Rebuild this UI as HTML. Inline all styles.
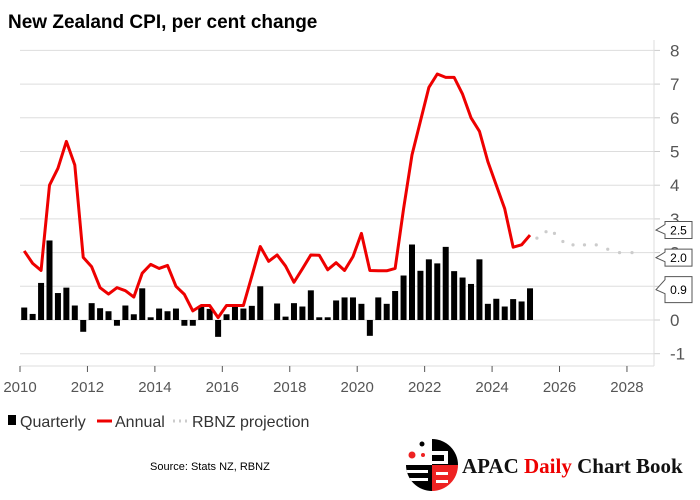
<!DOCTYPE html>
<html><head><meta charset="utf-8"><style>
body{margin:0;background:#fff;}
svg{display:block;font-family:"Liberation Sans",sans-serif;}
</style></head><body>
<svg id="chart" width="700" height="500">
<text x="8" y="28" font-size="19" font-weight="bold" fill="#000">New Zealand CPI, per cent change</text>
<g id="grid"></g><g id="bars"></g><g id="lines"></g><g id="axes"></g><g id="callouts"></g>
<g>
<rect x="8" y="415" width="8" height="10" fill="#000"/>
<text x="20" y="427" font-size="16" fill="#333">Quarterly</text>
<line x1="97" y1="421" x2="112" y2="421" stroke="#e00" stroke-width="3"/>
<text x="115" y="427" font-size="16" fill="#333">Annual</text>
<line x1="173" y1="421" x2="188" y2="421" stroke="#ccc" stroke-width="3" stroke-dasharray="2,4"/>
<text x="192" y="427" font-size="16" fill="#333">RBNZ projection</text>
</g>
<text x="150" y="470" font-size="11" fill="#000">Source: Stats NZ, RBNZ</text>
<g>
<clipPath id="lc"><circle cx="432" cy="465" r="26"/></clipPath>
<g clip-path="url(#lc)">
<rect x="432" y="439" width="26" height="26" fill="#000"/>
<rect x="432" y="465" width="26" height="26" fill="#e22"/>
<rect x="406" y="465" width="26" height="26" fill="#000"/>
<rect x="432" y="451" width="16" height="4" fill="#fff"/><rect x="444" y="455" width="4" height="6" fill="#fff"/><rect x="432" y="461" width="16" height="3" fill="#fff"/>
<rect x="406" y="470" width="22" height="3" fill="#fff"/><rect x="406" y="478" width="22" height="3" fill="#fff"/>
<rect x="436" y="472" width="12" height="3" fill="#fff"/><rect x="436" y="480" width="12" height="3" fill="#fff"/>
</g>
<circle cx="422" cy="444" r="2.5" fill="#000"/><circle cx="412" cy="455" r="3.5" fill="#e22"/><circle cx="423" cy="455" r="2" fill="#e22"/>
<text x="462" y="473" font-family="Liberation Serif,serif" font-size="21" font-weight="bold" fill="#111">APAC <tspan fill="#e00">Daily</tspan> Chart Book</text>
</g>
</svg>
<script>
const quarterly=[0.37,0.18,1.1,2.36,0.8,0.96,0.43,-0.35,0.5,0.35,0.26,-0.17,0.43,0.17,0.94,0.08,0.34,0.26,0.34,-0.17,-0.17,0.42,0.33,-0.5,0.17,0.42,0.34,0.42,1.0,0,0.49,0.1,0.5,0.4,0.88,0.08,0.08,0.58,0.67,0.67,0.48,-0.47,0.67,0.48,0.86,1.32,2.24,1.46,1.8,1.68,2.17,1.45,1.26,1.07,1.8,0.48,0.63,0.4,0.62,0.55,0.94];
const annual=[2.05,1.68,1.47,4.0,4.5,5.3,4.6,1.86,1.58,0.96,0.77,0.96,0.87,0.68,1.39,1.65,1.53,1.62,1.0,0.76,0.27,0.43,0.43,0.07,0.43,0.43,0.43,1.3,2.18,1.74,1.93,1.6,1.12,1.52,1.93,1.92,1.49,1.7,1.47,1.88,2.57,1.47,1.46,1.46,1.53,3.3,4.9,5.9,6.9,7.3,7.2,7.2,6.7,6.0,5.6,4.7,4.0,3.3,2.16,2.23,2.52];
const projYears=[2025.33,2025.60,2025.85,2026.10,2026.40,2026.74,2027.09,2027.43,2027.78,2028.15];
const projValues=[2.43,2.62,2.57,2.33,2.23,2.23,2.23,2.1,2.0,2.0];
const yTicks=[-1,0,1,2,3,4,5,6,7,8];
const xTicks=[2010,2012,2014,2016,2018,2020,2022,2024,2026,2028];
const callouts=[{label:"2.5",y:2.67},{label:"2.0",y:1.85},{label:"0.9",y:0.9}];
const startYear=2010;
const NS="http://www.w3.org/2000/svg";
const X=y=>20+(y-2010)*33.72, Y=v=>320-v*33.7;
function mk(t,a,p){const e=document.createElementNS(NS,t);for(const k in a)e.setAttribute(k,a[k]);p.appendChild(e);return e;}
const grid=document.getElementById('grid'),axes=document.getElementById('axes');
yTicks.forEach(v=>{
 const l=mk('line',{x1:20,x2:654,y1:Y(v),y2:Y(v),stroke:'#ddd','stroke-width':1},grid);
 
 
 const t=mk('text',{x:670,y:Y(v)+6,'font-size':17,fill:'#555'},axes);t.textContent=v<0?'-'+(-v):v;
 
 
 mk('line',{x1:654,x2:660,y1:Y(v),y2:Y(v),stroke:'#ccc'},axes);
});
let sp=mk('line',{x1:654,x2:654,y1:40,y2:366,stroke:'#ddd'},axes);


let xa=mk('line',{x1:20,x2:654,y1:366,y2:366,stroke:'#ddd'},axes);


xTicks.forEach(yr=>{
 mk('line',{x1:X(yr),x2:X(yr),y1:366,y2:372,stroke:'#555'},axes);
 const t=mk('text',{x:X(yr),y:392,'font-size':15,fill:'#555','text-anchor':'middle'},axes);t.textContent=yr;
 
 
});
const bars=document.getElementById('bars');
quarterly.forEach((v,i)=>{
 const c=X(startYear+(i+0.5)/4);
 const r=mk('rect',{x:c-3,y:Math.min(Y(v),Y(0)),width:6,height:Math.abs(Y(v)-Y(0)),fill:'#000'},bars);
 
 
});
const lines=document.getElementById('lines');
const ap=annual.map((v,i)=>X(startYear+(i+0.5)/4)+','+Y(v)).join(' ');
const pl=mk('polyline',{points:ap,fill:'none',stroke:'#e00','stroke-width':3,'stroke-linejoin':'round'},lines);


projYears.forEach((yr,i)=>{
 const c=mk('circle',{cx:X(yr),cy:Y(projValues[i]),r:1.6,fill:'#ccc'},lines);
 
 
});
const cg=document.getElementById('callouts');
callouts.forEach(c=>{
 const y=Y(c.y),h=c.label==="0.9"?26:17,top=y-h/2;
 const p=mk('path',{d:`M656,${y} L665,${top+3} L665,${top} L692,${top} L692,${top+h} L665,${top+h} L665,${y+4} Z`,fill:'#fff',stroke:'#555','stroke-width':1},cg);
 
 
 const t=mk('text',{x:678.5,y:y+4.5,'font-size':12,fill:'#000','text-anchor':'middle'},cg);t.textContent=c.label;
 
 
});
</script>
</body></html>
